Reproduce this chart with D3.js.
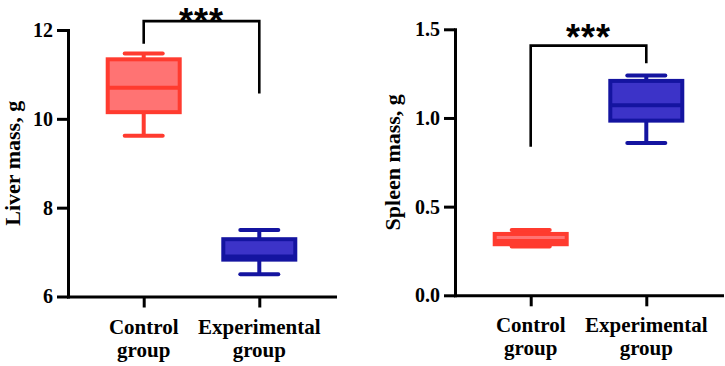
<!DOCTYPE html>
<html><head><meta charset="utf-8">
<script src="https://cdn.jsdelivr.net/npm/d3@7"></script>
<style>body{margin:0;background:#fff}</style>
</head><body><svg id="c" width="725" height="366"></svg>
<script>
// ---- data ----
const categories = ["Control group", "Experimental group"];

const liverMin    = [9.62, 6.50];
const liverQ1     = [10.15, 6.83];
const liverMedian = [10.70, 6.90];
const liverQ3     = [11.34, 7.29];
const liverMax    = [11.47, 7.50];
const liverTicks  = [6, 8, 10, 12];
const liverBracket = [11.69, 12.20, 10.57]; // left leg end, top, right leg end

const spleenMin    = [0.275, 0.859];
const spleenQ1     = [0.288, 0.985];
const spleenMedian = [0.306, 1.072];
const spleenQ3     = [0.346, 1.209];
const spleenMax    = [0.368, 1.239];
const spleenTicks  = [0, 0.5, 1.0, 1.5];
const spleenBracket = [0.838, 1.408, 1.309];

const sigLabel = "***";

// ---- styles ----
const strokeCol = ["#ff3b2f", "#1414a0"];
const fillCol   = ["#ff7373", "#3c33c8"];
const serif = "'Liberation Serif', 'Times New Roman', serif";

const svg = d3.select("#c");

function panel(o) {
  const g = svg.append("g");
  const x = d3.scalePoint().domain(categories).range([o.x0, o.x1]).padding(0.655);
  const y = d3.scaleLinear().domain(o.domain).range([o.y0, o.y1]);

  // y axis
  const ya = g.append("g").attr("transform", `translate(${o.x0},0)`)
    .call(d3.axisLeft(y).tickValues(o.ticks).tickFormat(o.fmt).tickSize(11).tickSizeOuter(0).tickPadding(4));
  // x axis
  const xa = g.append("g").attr("transform", `translate(0,${o.y0})`)
    .call(d3.axisBottom(x).tickSize(11).tickSizeOuter(0).tickFormat(""));
  [ya, xa].forEach(a => {
    a.selectAll("path, line").attr("stroke", "#000").attr("stroke-width", 3);
    a.select(".domain").attr("stroke-linecap", "square");
  });
  ya.selectAll("text").attr("font-family", serif).attr("font-weight", "bold")
    .attr("font-size", 20).attr("fill", "#000");

  // x labels, two lines
  categories.forEach(c => {
    const parts = c.split(" ");
    const t = g.append("text").attr("text-anchor", "middle")
      .attr("font-family", serif).attr("font-weight", "bold").attr("font-size", 21);
    parts.forEach((p, i) => t.append("tspan").attr("x", x(c)).attr("y", o.y0 + 37 + i * 23).text(p));
  });

  // y label
  g.append("text").attr("transform", `translate(${o.labelX},${(o.y0 + o.y1) / 2}) rotate(-90)`)
    .attr("text-anchor", "middle").attr("font-family", serif).attr("font-weight", "bold")
    .attr("font-size", 22).text(o.label);

  // boxes
  const bw = 72, cap = 19;
  categories.forEach((c, i) => {
    const cx = x(c);
    const bg = g.append("g").attr("stroke", strokeCol[i]).attr("stroke-width", 4);
    bg.append("line").attr("x1", cx).attr("x2", cx).attr("y1", y(o.max[i])).attr("y2", y(o.q3[i]));
    bg.append("line").attr("x1", cx).attr("x2", cx).attr("y1", y(o.q1[i])).attr("y2", y(o.min[i]));
    [o.max[i], o.min[i]].forEach(v => bg.append("line").attr("stroke-linecap", "round")
      .attr("x1", cx - cap).attr("x2", cx + cap).attr("y1", y(v)).attr("y2", y(v)));
    bg.append("rect").attr("x", cx - bw / 2).attr("width", bw)
      .attr("y", y(o.q3[i])).attr("height", y(o.q1[i]) - y(o.q3[i])).attr("fill", fillCol[i]);
    bg.append("line").attr("x1", cx - bw / 2).attr("x2", cx + bw / 2)
      .attr("y1", y(o.median[i])).attr("y2", y(o.median[i]));
  });

  // significance bracket
  const [l, top, r] = o.bracket;
  const xl = x(categories[0]), xr = x(categories[1]);
  g.append("path").attr("fill", "none").attr("stroke", "#000").attr("stroke-width", 2.6)
    .attr("d", `M${xl},${y(l)}V${y(top)}H${xr}V${y(r)}`);
  g.append("text").attr("x", (xl + xr) / 2).attr("y", y(top) + o.starDy)
    .attr("text-anchor", "middle").attr("font-family", "'Liberation Sans', Arial, sans-serif")
    .attr("font-weight", "bold").attr("font-size", 36).attr("letter-spacing", 1).text(sigLabel);
}

panel({x0: 68, x1: 335, y0: 296.5, y1: 30, domain: [6, 12], ticks: liverTicks,
  fmt: d3.format("d"), label: "Liver mass, g", labelX: 20, starDy: 12.8,
  min: liverMin, q1: liverQ1, median: liverMedian, q3: liverQ3, max: liverMax, bracket: liverBracket});

panel({x0: 455, x1: 722, y0: 295.3, y1: 29.3, domain: [0, 1.5], ticks: spleenTicks,
  fmt: d3.format(".1f"), label: "Spleen mass, g", labelX: 400, starDy: 4.5,
  min: spleenMin, q1: spleenQ1, median: spleenMedian, q3: spleenQ3, max: spleenMax, bracket: spleenBracket});
</script>
</body></html>
